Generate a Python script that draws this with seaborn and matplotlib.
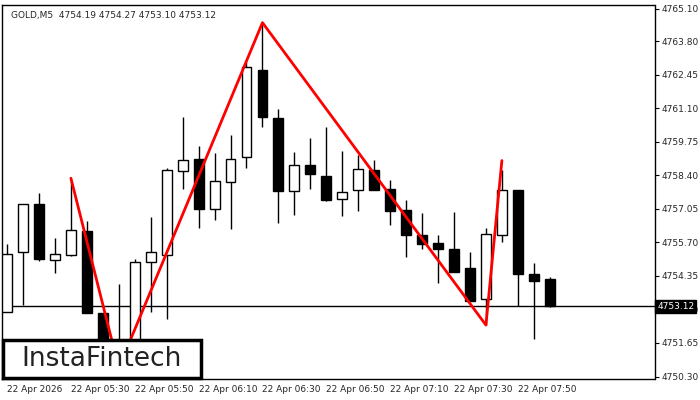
import numpy as np
import pandas as pd
import matplotlib
matplotlib.use("Agg")
import matplotlib.pyplot as plt
import seaborn as sns

sns.set_style("white")
plt.rcParams['font.family'] = ['DejaVu Sans']

# --- dati delle candele (M5) ---
opens = [4752.89, 4755.30, 4757.24, 4754.98, 4755.17, 4756.16, 4752.85, 4751.51, 4751.64, 4754.90,
         4755.17, 4758.56, 4759.04, 4757.06, 4758.12, 4759.12, 4762.63, 4760.70, 4757.78, 4758.81,
         4758.37, 4757.43, 4757.79, 4758.61, 4757.85, 4757.00, 4756.00, 4755.68, 4755.43, 4754.67,
         4753.41, 4755.98, 4757.82, 4754.43, 4754.23]
highs = [4755.64, 4757.24, 4757.70, 4755.89, 4758.21, 4756.57, 4752.85, 4754.03, 4755.03, 4756.72,
         4758.68, 4760.74, 4759.58, 4759.30, 4760.02, 4762.97, 4764.54, 4761.07, 4759.34, 4759.90,
         4760.34, 4759.38, 4759.22, 4759.01, 4758.21, 4757.41, 4756.88, 4756.00, 4756.92, 4755.31,
         4756.28, 4758.61, 4757.82, 4754.86, 4754.32]
lows = [4752.89, 4753.16, 4754.93, 4754.48, 4755.13, 4752.85, 4751.24, 4750.65, 4751.51, 4752.91,
        4752.61, 4757.86, 4756.29, 4756.61, 4756.25, 4758.71, 4760.35, 4756.47, 4756.78, 4757.86,
        4757.37, 4756.74, 4756.98, 4757.81, 4756.40, 4755.09, 4755.45, 4754.08, 4754.52, 4753.32,
        4752.37, 4755.73, 4753.14, 4751.79, 4753.10]
closes = [4755.23, 4757.24, 4755.02, 4755.22, 4756.20, 4752.85, 4751.51, 4751.64, 4754.90, 4755.30,
          4758.61, 4759.00, 4757.06, 4758.17, 4759.04, 4762.74, 4760.76, 4757.78, 4758.80, 4758.44,
          4757.42, 4757.71, 4758.64, 4757.82, 4756.98, 4756.01, 4755.65, 4755.45, 4754.52, 4753.32,
          4756.02, 4757.82, 4754.44, 4754.16, 4753.12]

# linea rossa del pattern (indice candela, prezzo)
pattern_idx = [4, 7, 16, 30, 31]
pattern_price = [4758.28, 4750.65, 4764.54, 4752.37, 4758.99]

tick_idx = [0, 4, 8, 12, 16, 20, 24, 28, 32]
tick_lab = ["22 Apr 2026", "22 Apr 05:30", "22 Apr 05:50", "22 Apr 06:10", "22 Apr 06:30",
            "22 Apr 06:50", "22 Apr 07:10", "22 Apr 07:30", "22 Apr 07:50"]
price_ticks = [4750.30, 4751.65, 4753.00, 4754.35, 4755.70, 4757.05, 4758.40,
               4759.75, 4761.10, 4762.45, 4763.80, 4765.10]
ultimo = 4753.12

df = pd.DataFrame({"o": opens, "h": highs, "l": lows, "c": closes})
df["i"] = np.arange(len(df))

fig = plt.figure(figsize=(7, 4), dpi=100)
ax = fig.add_axes([0.003, 0.0525, 0.932, 0.935])

# linea ultimo prezzo
ax.axhline(ultimo, color="black", lw=1, zorder=1)

w = 0.62
for _, r in df.iterrows():
    ax.vlines(r.i, r.l, r.h, color="black", lw=1, zorder=2)
    bottom = min(r.o, r.c)
    height = max(abs(r.c - r.o), 0.02)
    fc = "white" if r.c >= r.o else "black"
    ax.bar(r.i, height, bottom=bottom, width=w, facecolor=fc, edgecolor="black", lw=1, zorder=3)

sns.lineplot(x=pattern_idx, y=pattern_price, color="#ff0000", lw=2, ax=ax, zorder=4, sort=False)

ax.set_xlim(-0.31, 40.56)
ax.set_ylim(4750.20, 4765.25)
ax.set_xticks(tick_idx)
ax.set_xticklabels(tick_lab, fontsize=6.5, ha="left")
ax.yaxis.tick_right()
ax.set_yticks(price_ticks)
ax.set_yticklabels([f"{p:.2f}" for p in price_ticks], fontsize=6.5)
ax.tick_params(length=3, width=0.8, color="black", pad=2)
ax.tick_params(axis="x", pad=1)
for lab in ax.get_xticklabels():
    lab.set_x(lab.get_position()[0])
for s in ax.spines.values():
    s.set_color("black")
    s.set_linewidth(1)

ax.text(0.013, 0.985, "GOLD,M5  4754.19 4754.27 4753.10 4753.12", transform=ax.transAxes,
        fontsize=6.5, va="top", ha="left")
ax.text(1.004, ultimo, f"{ultimo:.2f}", transform=ax.get_yaxis_transform(), fontsize=6.5,
        color="white", va="center", ha="left", zorder=20,
        bbox=dict(boxstyle="square,pad=0.25", fc="black", ec="black"))

# logo
fig.patches.append(plt.Rectangle((3 / 700, 22 / 400), 198 / 700, 38 / 400, transform=fig.transFigure,
                                 facecolor="white", edgecolor="black", lw=2.5, zorder=10))
fig.text(102 / 700, 41 / 400, "InstaFintech", fontsize=19, color="#222222",
         ha="center", va="center", zorder=11)

fig.savefig("out.png", dpi=100)
